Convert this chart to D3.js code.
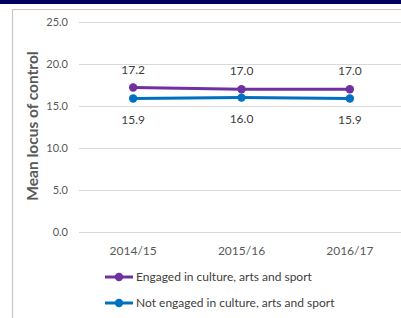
<!DOCTYPE html>
<html>
<head>
<meta charset="utf-8">
<script src="https://cdn.jsdelivr.net/npm/d3@7"></script>
<style>
  body { margin: 0; background: #fff; }
  svg { display: block; font-family: Lato, "Liberation Sans", sans-serif; }
</style>
</head>
<body>
<div id="chart"></div>
<script>
const years = ["2014/15", "2015/16", "2016/17"];
const engaged = [17.2, 17.0, 17.0];
const notEngaged = [15.9, 16.0, 15.9];
const yTicks = [0, 5, 10, 15, 20, 25];
const seriesNames = ["Engaged in culture, arts and sport", "Not engaged in culture, arts and sport"];

const width = 401, height = 318;
const colors = ["#7030a0", "#0070c0"];

const svg = d3.select("#chart").append("svg")
  .attr("width", width)
  .attr("height", height);

// top bar and frame
svg.append("rect").attr("x", 0).attr("y", 0).attr("width", width).attr("height", 4).attr("fill", "#00005e");
svg.append("path")
  .attr("d", `M12.5,${height} V9.5 H${width}`)
  .attr("fill", "none").attr("stroke", "#c8c8c8").attr("stroke-width", 1.2);

const x = d3.scaleBand().domain(years).range([79, 404]);
const y = d3.scaleLinear().domain([0, 25]).range([232, 22]);

// gridlines
svg.append("g").selectAll("line")
  .data(yTicks)
  .join("line")
  .attr("x1", 79).attr("x2", width)
  .attr("y1", d => Math.round(y(d)) + 0.5)
  .attr("y2", d => Math.round(y(d)) + 0.5)
  .attr("stroke", "#d9d9d9");

// y tick labels
svg.append("g").selectAll("text")
  .data(yTicks)
  .join("text")
  .attr("x", 68)
  .attr("y", d => y(d))
  .attr("dy", "0.35em")
  .attr("text-anchor", "end")
  .attr("font-size", "11px")
  .attr("fill", "#595959")
  .text(d => d.toFixed(1));

// y title
svg.append("text")
  .attr("transform", "translate(38,126) rotate(-90)")
  .attr("text-anchor", "middle")
  .attr("font-size", "15.5px")
  .attr("font-weight", "bold")
  .attr("fill", "#595959")
  .text("Mean locus of control");

// x labels
svg.append("g").selectAll("text")
  .data(years)
  .join("text")
  .attr("x", d => x(d) + x.bandwidth() / 2)
  .attr("y", 251)
  .attr("dy", "0.35em")
  .attr("text-anchor", "middle")
  .attr("font-size", "12px")
  .attr("fill", "#595959")
  .text(d => d);

const cx = d => x(d) + x.bandwidth() / 2;
const line = d3.line().x(d => cx(d.year)).y(d => y(d.value));

[engaged, notEngaged].forEach((vals, i) => {
  const pts = years.map((yr, j) => ({ year: yr, value: vals[j] }));
  svg.append("path")
    .datum(pts)
    .attr("d", line)
    .attr("fill", "none")
    .attr("stroke", colors[i])
    .attr("stroke-width", 3);
  svg.append("g").selectAll("circle")
    .data(pts)
    .join("circle")
    .attr("cx", d => cx(d.year))
    .attr("cy", d => y(d.value))
    .attr("r", 4.2)
    .attr("fill", colors[i]);
  svg.append("g").selectAll("text")
    .data(pts)
    .join("text")
    .attr("x", d => cx(d.year))
    .attr("y", d => y(d.value) + (i === 0 ? -18 : 21))
    .attr("dy", "0.35em")
    .attr("text-anchor", "middle")
    .attr("font-size", "12px")
    .attr("fill", "#404040")
    .text(d => d.value.toFixed(1));
});

// legend
const legend = svg.append("g").selectAll("g")
  .data(seriesNames)
  .join("g")
  .attr("transform", (d, i) => `translate(105,${277 + i * 26})`);
legend.append("line")
  .attr("x1", 0).attr("x2", 28)
  .attr("stroke", (d, i) => colors[i])
  .attr("stroke-width", 3);
legend.append("circle")
  .attr("cx", 14).attr("r", 4.2)
  .attr("fill", (d, i) => colors[i]);
legend.append("text")
  .attr("x", 31)
  .attr("dy", "0.35em")
  .attr("font-size", "12px")
  .attr("fill", "#404040")
  .text(d => d);
</script>
</body>
</html>
